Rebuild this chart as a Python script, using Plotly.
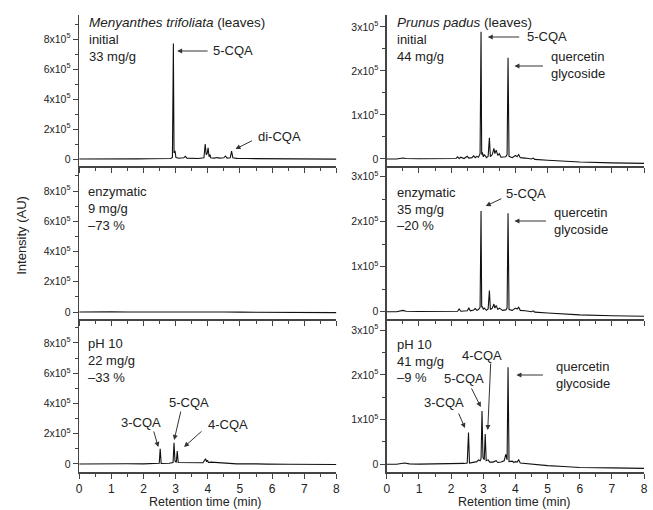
import plotly.graph_objects as go

W, H = 653, 510

# ---------------- data (retention time in min, intensity in units of 10^5 AU) -------------
men_init_x = [0, 0.3, 0.6, 1.0, 1.4, 1.8, 2.2, 2.6, 2.85, 2.90, 2.93, 2.95, 2.98, 3.01, 3.1, 3.25,
              3.3, 3.35, 3.5, 3.7, 3.88, 3.92, 3.95, 3.98, 4.01, 4.04, 4.07, 4.09, 4.2, 4.3, 4.35,
              4.5, 4.55, 4.6, 4.7, 4.74, 4.78, 4.9, 5.2, 5.6, 5.7, 5.8, 6.2, 7.0, 8.0]
men_init_y = [0.0, 0.01, 0.02, 0.01, 0.02, 0.01, 0.02, 0.02, 0.03, 0.1, 7.7, 0.4, 0.55, 0.1, 0.05, 0.08,
              0.18, 0.06, 0.04, 0.03, 0.08, 1.0, 0.3, 0.35, 0.75, 0.15, 0.3, 0.08, 0.06, 0.1, 0.06,
              0.08, 0.2, 0.06, 0.08, 0.53, 0.08, 0.04, 0.03, 0.02, 0.06, 0.02, 0.01, 0.0, -0.01]

men_enz_x = [0, 0.5, 0.7, 1.0, 1.5, 2.0, 2.5, 2.9, 2.95, 3.5, 3.9, 4.0, 4.1, 4.5, 5.0, 6.0, 6.4,
             6.6, 7.0, 8.0]
men_enz_y = [0, 0.02, 0.01, 0.01, 0.005, 0.01, 0.005, 0.01, 0.02, 0.005, 0.02, 0.04, 0.01, 0.0,
             -0.005, -0.01, -0.04, -0.03, -0.04, -0.04]

men_ph_x = [0, 0.5, 1.0, 1.5, 2.0, 2.4, 2.49, 2.52, 2.55, 2.8, 2.92, 2.95, 2.98, 3.02, 3.05, 3.08,
            3.2, 3.5, 3.85, 3.93, 3.96, 3.99, 4.02, 4.1, 4.3, 4.5, 4.8, 4.9, 5.5, 5.8, 5.85, 6.5, 8.0]
men_ph_y = [0, 0.02, 0.01, 0.02, 0.01, 0.02, 0.05, 1.0, 0.03, 0.05, 0.1, 1.4, 0.2, 0.1, 0.85, 0.1,
            0.1, 0.08, 0.08, 0.35, 0.15, 0.25, 0.1, 0.12, 0.1, 0.08, 0.06, 0.01, 0.01, 0.02, -0.01,
            -0.02, -0.03]

pru_init_x = [0, 0.3, 0.5, 0.6, 1.0, 1.5, 2.0, 2.15, 2.2, 2.25, 2.3, 2.4, 2.5, 2.55, 2.65, 2.7,
              2.75, 2.8, 2.85, 2.9, 2.93, 2.95, 2.97, 3.0, 3.03, 3.1, 3.15, 3.19, 3.22, 3.28, 3.33,
              3.36, 3.4, 3.45, 3.5, 3.55, 3.6, 3.7, 3.74, 3.77, 3.8, 3.9, 4.0, 4.05, 4.1, 4.15, 4.3,
              4.5, 4.55, 4.6, 5.0, 5.5, 6.0, 7.0, 8.0]
pru_init_y = [0, 0.0, 0.02, 0.01, 0.005, 0.01, 0.005, 0.01, 0.05, 0.01, 0.04, 0.01, 0.06, 0.02,
              0.03, 0.07, 0.03, 0.06, 0.04, 0.12, 2.89, 0.1, 0.15, 0.05, 0.1, 0.03, 0.06, 0.48, 0.05,
              0.1, 0.24, 0.12, 0.2, 0.08, 0.12, 0.04, 0.04, 0.05, 0.1, 2.3, 0.06, 0.03, 0.08, 0.05,
              0.1, 0.03, 0.02, 0.0, 0.02, -0.01, -0.03, -0.05, -0.07, -0.09, -0.1]

pru_enz_x = [0, 0.3, 0.5, 0.6, 1.0, 1.5, 2.0, 2.2, 2.25, 2.3, 2.5, 2.55, 2.6, 2.7, 2.75, 2.8,
             2.85, 2.9, 2.93, 2.95, 2.97, 3.0, 3.03, 3.1, 3.15, 3.19, 3.22, 3.28, 3.33, 3.36, 3.4,
             3.45, 3.5, 3.6, 3.7, 3.74, 3.77, 3.8, 3.9, 4.0, 4.05, 4.1, 4.15, 4.3, 4.5, 4.55, 4.6,
             5.0, 5.5, 6.0, 7.0, 8.0]
pru_enz_y = [0, 0.0, 0.03, 0.01, 0.005, 0.01, 0.005, 0.01, 0.06, 0.01, 0.02, 0.08, 0.02, 0.04,
             0.07, 0.03, 0.05, 0.1, 2.24, 0.1, 0.12, 0.05, 0.08, 0.03, 0.06, 0.47, 0.05, 0.08, 0.17,
             0.08, 0.14, 0.05, 0.08, 0.03, 0.04, 0.08, 2.19, 0.05, 0.03, 0.08, 0.06, 0.1, 0.03,
             0.02, 0.0, 0.02, -0.01, -0.03, -0.05, -0.07, -0.09, -0.1]

pru_ph_x = [0, 0.3, 0.55, 0.7, 1.0, 1.5, 2.0, 2.2, 2.4, 2.5, 2.54, 2.57, 2.7, 2.8, 2.85, 2.9, 2.93,
            2.96, 2.99, 3.03, 3.06, 3.09, 3.15, 3.2, 3.3, 3.4, 3.45, 3.55, 3.65, 3.7, 3.74, 3.77,
            3.8, 3.9, 3.95, 4.0, 4.05, 4.1, 4.15, 4.3, 4.5, 5.0, 5.5, 6.0, 7.0, 8.0]
pru_ph_y = [0, 0.0, 0.03, 0.01, 0.005, 0.01, 0.005, 0.02, 0.02, 0.03, 0.71, 0.03, 0.05, 0.06,
            0.1, 0.08, 0.12, 1.19, 0.15, 0.1, 0.68, 0.08, 0.1, 0.05, 0.05, 0.08, 0.04, 0.05, 0.08,
            0.22, 0.1, 2.17, 0.06, 0.07, 0.04, 0.06, 0.05, 0.1, 0.03, 0.02, 0.0, -0.03, -0.05,
            -0.07, -0.08, -0.09]

left_ticks = [0, 2, 4, 6, 8]
left_labels = ["0", "2x10<sup>5</sup>", "4x10<sup>5</sup>", "6x10<sup>5</sup>", "8x10<sup>5</sup>"]
right_ticks = [0, 1, 2, 3]
right_labels = ["0", "1x10<sup>5</sup>", "2x10<sup>5</sup>", "3x10<sup>5</sup>"]
x_ticks = [0, 1, 2, 3, 4, 5, 6, 7, 8]

series = [
    (men_init_x, men_init_y), (pru_init_x, pru_init_y),
    (men_enz_x, men_enz_y), (pru_enz_x, pru_enz_y),
    (men_ph_x, men_ph_y), (pru_ph_x, pru_ph_y),
]

# ---------------- layout geometry (pixels) ----------------
col_px = [(77, 337), (388, 648)]
row_px = [(15, 166), (167, 319), (320, 472)]
yranges = [[-0.467, 9.6], [-0.16, 3.27],
           [-0.46, 9.59], [-0.162, 3.215],
           [-0.53, 9.52], [-0.172, 3.228]]

FONT = "Liberation Sans, Arial, sans-serif"
TXT = "#222"
AX = "#444"

fig = go.Figure()
layout = {}
for i, (xs, ys) in enumerate(series):
    assert len(xs) == len(ys), i
    r, c = divmod(i, 2)
    k = i + 1
    sx = "" if k == 1 else str(k)
    fig.add_trace(go.Scatter(x=xs, y=ys, mode="lines", xaxis="x" + sx, yaxis="y" + sx,
                             line=dict(color="#111", width=1.1), showlegend=False,
                             hoverinfo="skip"))
    x0, x1 = col_px[c]
    y0, y1 = row_px[r]
    layout["xaxis" + sx] = dict(
        domain=[x0 / W, x1 / W], anchor="y" + sx, range=[0, 8],
        showline=True, linecolor=AX, linewidth=1.5, showgrid=False, zeroline=False,
        ticks="outside", ticklen=5, tickwidth=1, tickcolor=AX,
        tickvals=x_ticks, showticklabels=(r == 2),
        tickfont=dict(family=FONT, size=12, color=TXT),
        minor=dict(ticks="outside", ticklen=3, dtick=0.5, tick0=0, tickcolor=AX, showgrid=False),
    )
    tv, tt = (left_ticks, left_labels) if c == 0 else (right_ticks, right_labels)
    layout["yaxis" + sx] = dict(
        domain=[1 - y1 / H, 1 - y0 / H], anchor="x" + sx, range=yranges[i],
        showline=True, linecolor=AX, linewidth=1.5, showgrid=False, zeroline=False,
        ticks="outside", ticklen=5, tickwidth=1, tickcolor=AX,
        tickvals=tv, ticktext=tt,
        tickfont=dict(family=FONT, size=10.5, color=TXT),
        minor=dict(ticks="outside", ticklen=3, dtick=(1 if c == 0 else 0.5), tick0=0,
                   tickcolor=AX, showgrid=False),
    )

ann = []


def px(x, y):
    return x / W, 1 - y / H


def text(t, x, y, xanchor="center", size=13):
    X, Y = px(x, y)
    ann.append(dict(text=t, x=X, y=Y, xref="paper", yref="paper", xanchor=xanchor,
                    yanchor="middle", showarrow=False, align="left",
                    font=dict(family=FONT, size=size, color=TXT)))


def arrow(head, tail):
    X, Y = px(*head)
    ann.append(dict(text="", x=X, y=Y, xref="paper", yref="paper", showarrow=True,
                    ax=tail[0] - head[0], ay=tail[1] - head[1], axref="pixel", ayref="pixel",
                    arrowhead=2, arrowsize=1, arrowwidth=1, arrowcolor="#333"))


# panel labels
panel_lines = [
    (85, [22.5, 39.5, 56.5], ["<i>Menyanthes trifoliata</i> (leaves)", "initial", "33 mg/g"]),
    (396, [22.5, 39.5, 56.5], ["<i>Prunus padus</i> (leaves)", "initial", "44 mg/g"]),
    (84, [191, 208, 225], ["enzymatic", "9 mg/g", "\u201373 %"]),
    (396, [192, 209, 225], ["enzymatic", "35 mg/g", "\u201320 %"]),
    (84, [343, 360, 377], ["pH 10", "22 mg/g", "\u201333 %"]),
    (396, [344, 361, 377], ["pH 10", "41 mg/g", "\u20139 %"]),
]
for lx, ys_, lines in panel_lines:
    for yy, t in zip(ys_, lines):
        text(t, lx, yy, xanchor="left", size=13.5 if "leaves" in t else 13)

# peak labels
text("5-CQA", 232, 51)
text("di-CQA", 279, 137)
text("5-CQA", 550, 37)
text("quercetin<br>glycoside", 552, 65, xanchor="left")
text("5-CQA", 529, 193)
text("quercetin<br>glycoside", 555, 221, xanchor="left")
text("3-CQA", 139, 422)
text("5-CQA", 188, 402)
text("4-CQA", 227, 424)
text("3-CQA", 446, 402)
text("5-CQA", 466, 378)
text("4-CQA", 484, 355)
text("quercetin<br>glycoside", 557, 375, xanchor="left")

arrow((176, 51), (208, 51))
arrow((235, 149), (253, 140))
arrow((490, 37), (523, 37))
arrow((517, 66), (547, 66))
arrow((488, 206), (505, 198))
arrow((517, 221), (550, 221))
arrow((157, 447), (152, 430))
arrow((173, 440), (180, 410))
arrow((183, 447), (202, 430))
arrow((467, 428), (460, 412))
arrow((483, 407), (473, 387))
arrow((490, 430), (493, 362))
arrow((519, 375), (547, 375))

# axis titles
text("Retention time (min)", 205, 502, size=12.5)
text("Retention time (min)", 517, 502, size=12.5)
X, Y = px(19, 235)
ann.append(dict(text="Intensity (AU)", x=X, y=Y, xref="paper", yref="paper", textangle=-90,
                showarrow=False, xanchor="center", yanchor="middle",
                font=dict(family=FONT, size=13, color=TXT)))

fig.update_layout(width=W, height=H, margin=dict(l=0, r=0, t=0, b=0),
                  paper_bgcolor="white", plot_bgcolor="white", annotations=ann, **layout)
fig.write_html("out.html", config={"displayModeBar": False, "staticPlot": True})

# remove the default page margin so the figure sits at the window's top-left corner
with open("out.html", "r", encoding="utf-8") as f:
    html = f.read()
html = html.replace("<head>", "<head><style>html,body{margin:0;padding:0;overflow:hidden;}</style>", 1)
with open("out.html", "w", encoding="utf-8") as f:
    f.write(html)
